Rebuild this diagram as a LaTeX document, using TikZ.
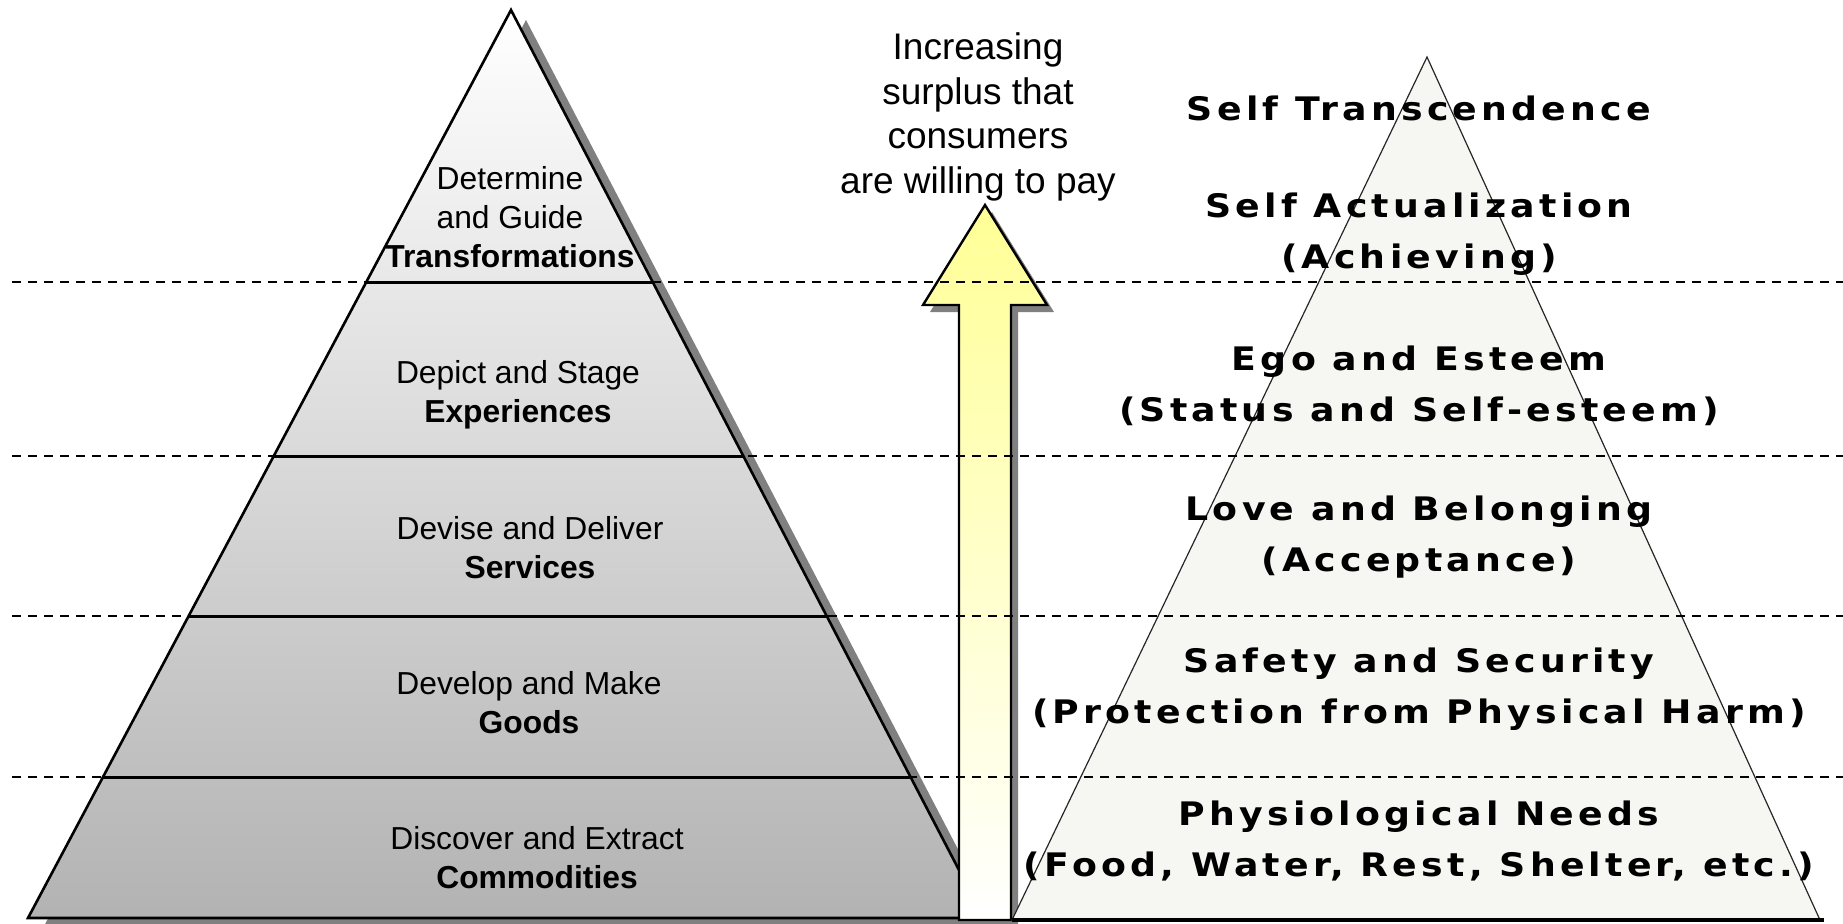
\documentclass[tikz,border=0pt]{standalone}
\usepackage{fontspec}
\setmainfont{Liberation Sans}
\newfontfamily\maslowfont{DejaVu Sans}[FakeStretch=1.12, LetterSpace=13]
\definecolor{shadowgray}{RGB}{128,128,128}
\definecolor{maslowfill}{RGB}{246,246,242}
\definecolor{arrowtop}{RGB}{255,255,150}
\begin{document}
\begin{tikzpicture}[x=0.5pt,y=-0.5pt,
  tierline/.style={line width=1.5pt, black},
  dashline/.style={line width=1.4pt, black, dash pattern=on 4.5pt off 3.5pt},
  lefttxt/.style={align=center, font=\fontsize{15.9}{19.4}\selectfont, inner sep=0pt},
  toptxt/.style={align=center, font=\fontsize{18.5}{22.35}\selectfont, inner sep=0pt},
  righttxt/.style={align=center, font=\maslowfont\bfseries\fontsize{16.2}{25.5}\selectfont, inner sep=0pt, text=black},
]
\useasboundingbox (0,0) rectangle (1843,923);
\clip (0,0) rectangle (1843,923);
% ---------- left pyramid ----------
\coordinate (LA) at (511,10);
\coordinate (LBL) at (28,918);
\coordinate (LBR) at (984,918);
\fill[shadowgray] ([shift={(15,10)}]LA) -- ([shift={(15,10)}]LBR) -- ([shift={(15,10)}]LBL) -- cycle;
\shade[top color=white, bottom color=black!30, draw=black, line width=1.3pt, line join=miter]
  (LA) -- (LBR) -- (LBL) -- cycle;
\draw[tierline] (366.3,282) -- (652.7,282);
\draw[tierline] (273.8,456) -- (743.3,456);
\draw[tierline] (188.7,616) -- (826.7,616);
\draw[tierline] (103,777) -- (910.5,777);
\node[lefttxt] (t1) at (510,217) {Determine\\and Guide\\\textbf{Transformations}};
\node[lefttxt] (t2) at (518,394.5) {Depict and Stage\\\textbf{Experiences}};
\node[lefttxt] (t3) at (530,547.5) {Devise and Deliver\\\textbf{Services}};
\node[lefttxt] (t4) at (529,702.5) {Develop and Make\\\textbf{Goods}};
\node[lefttxt] (t5) at (537,857.5) {Discover and Extract\\\textbf{Commodities}};
% ---------- arrow ----------
\fill[shadowgray, shift={(7,7)}] (985,205) -- (1047,305) -- (1011,305) -- (1011,925) -- (959,925) -- (959,305) -- (923,305) -- cycle;
\shade[top color=arrowtop, bottom color=white, draw=black, line width=1.2pt, line join=miter]
  (985,205) -- (1047,305) -- (1011,305) -- (1011,920) -- (959,920) -- (959,305) -- (923,305) -- cycle;
\node[toptxt] (surplus) at (978,117) {Increasing\\surplus that\\consumers\\are willing to pay};
% ---------- right pyramid ----------
\coordinate (RA) at (1427,57);
\coordinate (RBL) at (1012,920);
\coordinate (RBR) at (1820,920);
\filldraw[fill=maslowfill, draw=black!85, line width=0.6pt] (RA) -- (RBR) -- (RBL) -- cycle;
\draw[line width=1.6pt] (RBL) -- ([xshift=2]RBR);
\node[righttxt] (m1) at (1419,108) {Self Transcendence};
\node[righttxt] (m2) at (1419,234) {Self Actualization\\(Achieving)};
\node[righttxt] (m3) at (1419,385.5) {Ego and Esteem\\(Status and Self-esteem)};
\node[righttxt] (m4) at (1419,537) {Love and Belonging\\(Acceptance)};
\node[righttxt] (m5) at (1419,689.5) {Safety and Security\\(Protection from Physical Harm)};
\node[righttxt] (m6) at (1419,840.5) {Physiological Needs\\(Food, Water, Rest, Shelter, etc.)};
% ---------- dashed separators ----------
\foreach \yy in {282,456,616,777} {
  \draw[dashline] (12,\yy) -- (1843,\yy);
}
\end{tikzpicture}
\end{document}
